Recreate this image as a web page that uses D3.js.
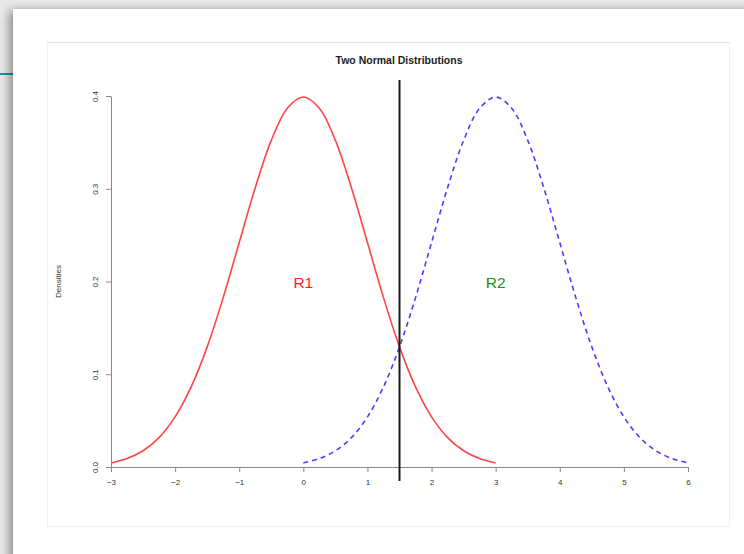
<!DOCTYPE html>
<html>
<head>
<meta charset="utf-8">
<script src="https://cdnjs.cloudflare.com/ajax/libs/d3/7.8.5/d3.min.js"></script>
<style>
body { margin: 0; width: 744px; height: 554px; overflow: hidden; background: #e9e9e9; position: relative; font-family: "Liberation Sans", Arial, sans-serif; }
#teal { position: absolute; left: 0; top: 73px; width: 20px; height: 1.5px; background: #13999a; }
#card { position: absolute; left: 13px; top: 9px; width: 760px; height: 580px; background: #fff; box-shadow: -3px 2px 10px rgba(0,0,0,0.45); }
#frame { position: absolute; left: 47px; top: 42px; width: 683px; height: 485px; border: 1px solid #f1f1f1; border-top-color: #e2e2e2; box-sizing: border-box; }
svg { position: absolute; left: 0; top: 0; }
</style>
</head>
<body>
<div id="teal"></div>
<div id="card"></div>
<div id="frame"></div>
<script>
// valeurs
var xs1 = [-3, -2.75, -2.5, -2.25, -2, -1.75, -1.5, -1.25, -1, -0.75, -0.5, -0.25, 0,
  0.25, 0.5, 0.75, 1, 1.25, 1.5, 1.75, 2, 2.25, 2.5, 2.75, 3];
var dens1 = [0.0044, 0.0091, 0.0175, 0.0317, 0.054, 0.0863, 0.1295, 0.1826, 0.242, 0.3011, 0.3521, 0.3867, 0.3989,
  0.3867, 0.3521, 0.3011, 0.242, 0.1826, 0.1295, 0.0863, 0.054, 0.0317, 0.0175, 0.0091, 0.0044];
var xs2 = [0, 0.25, 0.5, 0.75, 1, 1.25, 1.5, 1.75, 2, 2.25, 2.5, 2.75, 3,
  3.25, 3.5, 3.75, 4, 4.25, 4.5, 4.75, 5, 5.25, 5.5, 5.75, 6];
var dens2 = [0.0044, 0.0091, 0.0175, 0.0317, 0.054, 0.0863, 0.1295, 0.1826, 0.242, 0.3011, 0.3521, 0.3867, 0.3989,
  0.3867, 0.3521, 0.3011, 0.242, 0.1826, 0.1295, 0.0863, 0.054, 0.0317, 0.0175, 0.0091, 0.0044];
var xTicks = [-3, -2, -1, 0, 1, 2, 3, 4, 5, 6];
var yTicks = [0, 0.1, 0.2, 0.3, 0.4];
var cutoff = 1.5;
var regionLabels = [{text: "R1", x: 0, y: 0.2, col: "#ff1a1a"}, {text: "R2", x: 3, y: 0.2, col: "#1f8c1f"}];

var svg = d3.select("body").append("svg")
	.attr("width", 744)
	.attr("height", 554);

var x = d3.scaleLinear().domain([-3, 6]).range([111, 688]);
var y = d3.scaleLinear().domain([0, 0.4]).range([467, 96]);

// titre
svg.append("text")
	.attr("x", 399)
	.attr("y", 64)
	.attr("text-anchor", "middle")
	.style("font-size", "10.5px")
	.style("font-weight", "bold")
	.style("fill", "#222")
	.text("Two Normal Distributions");

// axe x
var gx = svg.append("g")
	.attr("transform", "translate(0," + y(0) + ")")
	.call(d3.axisBottom(x).tickValues(xTicks).tickFormat(d3.format("d")).tickSize(5).tickPadding(7).tickSizeOuter(0));
gx.selectAll("text").style("font-size", "8px").style("fill", "#333");

// axe y
var gy = svg.append("g")
	.attr("transform", "translate(" + x(-3) + ",0)")
	.call(d3.axisLeft(y).tickValues(yTicks).tickFormat(d3.format(".1f")).tickSize(5).tickSizeOuter(0));
gy.selectAll("text")
	.attr("transform", "rotate(-90)")
	.attr("x", 0)
	.attr("y", -13.5)
	.attr("dy", 0)
	.attr("text-anchor", "middle")
	.style("font-size", "8px")
	.style("fill", "#333");

svg.selectAll(".domain, .tick line").style("stroke", "#888");
svg.selectAll("g").attr("font-family", null);

svg.append("text")
	.attr("transform", "translate(61," + y(0.2) + ") rotate(-90)")
	.attr("text-anchor", "middle")
	.style("font-size", "8px")
	.style("fill", "#333")
	.text("Densities");

var line = d3.line()
	.x(function (d) { return x(d[0]); })
	.y(function (d) { return y(d[1]); })
	.curve(d3.curveCatmullRom);

svg.append("path")
	.datum(d3.zip(xs1, dens1))
	.attr("d", line)
	.attr("fill", "none")
	.attr("stroke", "#ff4545")
	.attr("stroke-width", 1.6);

svg.append("path")
	.datum(d3.zip(xs2, dens2))
	.attr("d", line)
	.attr("fill", "none")
	.attr("stroke", "#4a3cff")
	.attr("stroke-width", 1.6)
	.attr("stroke-dasharray", "5,4");

// ligne verticale (limite)
svg.append("line")
	.attr("x1", x(cutoff))
	.attr("x2", x(cutoff))
	.attr("y1", y(0.4172))
	.attr("y2", y(-0.0151))
	.attr("stroke", "#1a1a1a")
	.attr("stroke-width", 2);

svg.selectAll("text.region")
	.data(regionLabels)
	.enter()
	.append("text")
	.attr("class", "region")
	.attr("x", function (d) { return x(d.x); })
	.attr("y", function (d) { return y(d.y) + 6; })
	.attr("text-anchor", "middle")
	.style("font-size", "15.5px")
	.style("fill", function (d) { return d.col; })
	.text(function (d) { return d.text; });
</script>
</body>
</html>
